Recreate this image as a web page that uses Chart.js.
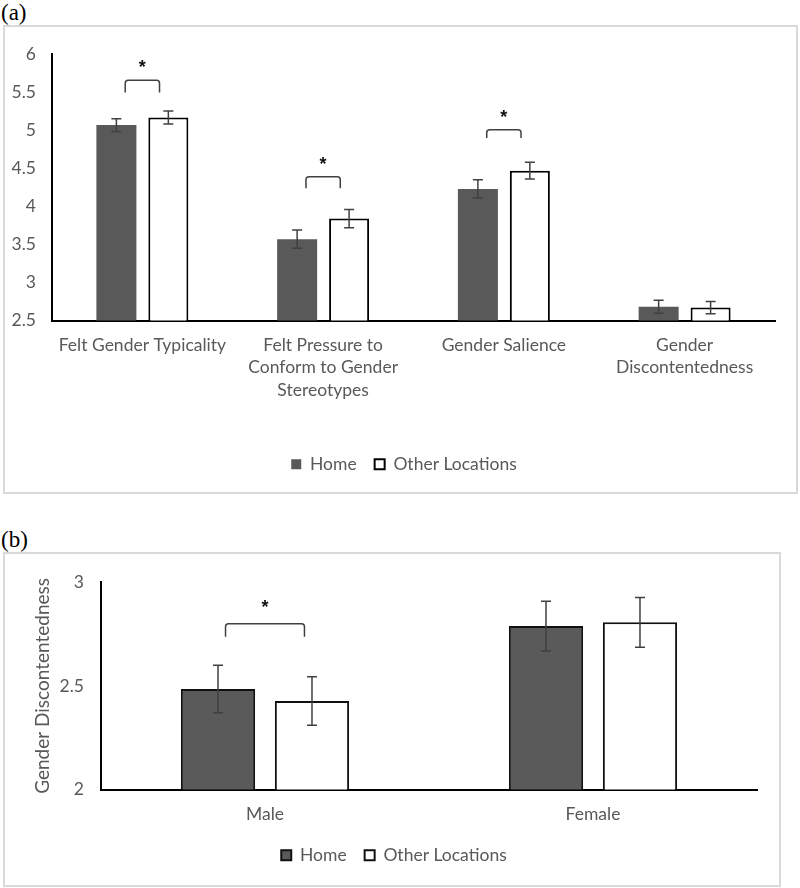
<!DOCTYPE html>
<html lang="en">
<head>
<meta charset="UTF-8">
<title>Gender measures by location</title>
<script src="https://cdn.jsdelivr.net/npm/chart.js@4.4.0/dist/chart.umd.min.js"></script>
<style>
  body { margin: 0; background: #fff; width: 800px; height: 888px; position: relative; }
  .panel-label { position: absolute; font-family: "Liberation Serif", serif; font-size: 23px; color: #000; line-height: 1; }
  .frame { position: absolute; border: 2px solid #d9d9d9; box-sizing: border-box; }
  canvas { position: absolute; }
</style>
</head>
<body>

<div class="panel-label" style="left:1px; top:1px;">(a)</div>
<div class="frame" style="left:3px; top:25px; width:795px; height:469px;"></div>
<canvas id="chartA" width="791" height="465" style="left:5px; top:27px;"></canvas>

<div class="panel-label" style="left:1px; top:528px;">(b)</div>
<div class="frame" style="left:3px; top:552px; width:778px; height:335px;"></div>
<canvas id="chartB" width="774" height="331" style="left:5px; top:554px;"></canvas>

<script>
// panel (a)
const categoriesA = [['Felt Gender Typicality'], ['Felt Pressure to', 'Conform to Gender', 'Stereotypes'], ['Gender Salience'], ['Gender', 'Discontentedness']];
const homeA = [5.07, 3.57, 4.23, 2.68];
const otherA = [5.17, 3.84, 4.47, 2.67];
const homeErrA = [0.085, 0.12, 0.12, 0.085];
const otherErrA = [0.085, 0.12, 0.11, 0.08];
const sigCatsA = [0, 1, 2];
const sigTopA = [5.66, 4.39, 5.01];
const sigLegA = [5.50, 4.24, 4.90];

// panel (b)
const categoriesB = ['Male', 'Female'];
const homeB = [2.485, 2.789];
const otherB = [2.427, 2.807];
const homeErrB = [0.115, 0.12];
const otherErrB = [0.117, 0.12];
const sigCatsB = [0];
const sigTopB = [2.80];
const sigLegB = [2.737];

const labelFont = { family: 'Lato', size: 17.5, lineHeight: 1.3 };
const textGrey = '#595959';

const errorBars = {
  id: 'errorBars',
  afterDatasetsDraw(chart, args, opts) {
    const ctx = chart.ctx;
    const y = chart.scales.y;
    chart.data.datasets.forEach((ds, i) => {
      chart.getDatasetMeta(i).data.forEach((bar, j) => {
        const top = y.getPixelForValue(ds.data[j] + ds.errors[j]);
        const bot = y.getPixelForValue(ds.data[j] - ds.errors[j]);
        ctx.save();
        ctx.strokeStyle = opts.color;
        ctx.lineWidth = opts.width;
        ctx.beginPath();
        ctx.moveTo(bar.x, top); ctx.lineTo(bar.x, bot);
        ctx.moveTo(bar.x - opts.cap, top); ctx.lineTo(bar.x + opts.cap, top);
        ctx.moveTo(bar.x - opts.cap, bot); ctx.lineTo(bar.x + opts.cap, bot);
        ctx.stroke();
        ctx.restore();
      });
    });
  }
};

const sigMarks = {
  id: 'sigMarks',
  afterDatasetsDraw(chart, args, opts) {
    const ctx = chart.ctx;
    const y = chart.scales.y;
    opts.cats.forEach((c, k) => {
      const a = chart.getDatasetMeta(0).data[c].x;
      const b = chart.getDatasetMeta(1).data[c].x;
      const mid = (a + b) / 2;
      const half = (b - a) * opts.span / 2;
      const yt = y.getPixelForValue(opts.top[k]);
      const yl = y.getPixelForValue(opts.leg[k]);
      ctx.save();
      ctx.strokeStyle = '#404040';
      ctx.lineWidth = 1.5;
      ctx.beginPath();
      ctx.moveTo(mid - half, yl);
      ctx.arcTo(mid - half, yt, mid, yt, 3);
      ctx.arcTo(mid + half, yt, mid + half, yl, 3);
      ctx.lineTo(mid + half, yl);
      ctx.stroke();
      ctx.fillStyle = '#111';
      ctx.font = 'bold 18px "Liberation Sans"';
      ctx.textAlign = 'center';
      ctx.textBaseline = 'middle';
      ctx.fillText('*', mid, yt - opts.starGap);
      ctx.restore();
    });
  }
};

// nudge the legend sideways (the original centres it on the plot, not the canvas)
const legendShift = {
  id: 'legendShift',
  afterLayout(chart, args, opts) {
    if (!chart.legend || !opts.dx) return;
    chart.legend.left += opts.dx;
    chart.legend.right += opts.dx;
  }
};

function axisX(height) {
  return {
    grid: { display: true, drawOnChartArea: false, drawTicks: false },
    border: { color: '#000', width: 2 },
    ticks: { color: textGrey, font: labelFont, padding: 13, maxRotation: 0, autoSkip: false },
    afterFit: s => { s.height = height; }
  };
}

function axisY(min, max, pad, width) {
  return {
    min: min, max: max,
    grid: { display: true, drawOnChartArea: false, drawTicks: false },
    border: { color: '#000', width: 2 },
    ticks: { stepSize: 0.5, color: textGrey, font: labelFont, padding: pad, callback: v => String(v) },
    afterFit: s => { s.width = width; }
  };
}

function legendOpts() {
  return {
    position: 'bottom',
    labels: { boxWidth: 10, boxHeight: 10, color: textGrey, font: labelFont, padding: 18 }
  };
}

new Chart(document.getElementById('chartA'), {
  type: 'bar',
  data: {
    labels: categoriesA,
    datasets: [
      { label: 'Home', data: homeA, errors: homeErrA, backgroundColor: '#595959', borderWidth: 0,
        categoryPercentage: 0.575, barPercentage: 0.77 },
      { label: 'Other Locations', data: otherA, errors: otherErrA, backgroundColor: '#fff', borderColor: '#000', borderWidth: 2,
        categoryPercentage: 0.575, barPercentage: 0.77 }
    ]
  },
  options: {
    responsive: false,
    animation: false,
    layout: { padding: { top: 25, right: 21, bottom: 9, left: 0 } },
    scales: {
      x: axisX(117),
      y: axisY(2.5, 6, 16, 47)
    },
    plugins: {
      legend: legendOpts(),
      tooltip: { enabled: false },
      errorBars: { color: '#404040', width: 1.5, cap: 5 },
      sigMarks: { cats: sigCatsA, top: sigTopA, leg: sigLegA, span: 0.66, starGap: 12 },
      legendShift: { dx: 14 }
    }
  },
  plugins: [errorBars, sigMarks, legendShift]
});

const yB = axisY(2, 3, 17, 70);
yB.title = { display: true, text: 'Gender Discontentedness', color: textGrey, font: { family: 'Lato', size: 19 }, padding: 0 };

new Chart(document.getElementById('chartB'), {
  type: 'bar',
  data: {
    labels: categoriesB,
    datasets: [
      { label: 'Home', data: homeB, errors: homeErrB, backgroundColor: '#5a5a5a', borderColor: '#111', borderWidth: 2,
        categoryPercentage: 0.573, barPercentage: 0.79 },
      { label: 'Other Locations', data: otherB, errors: otherErrB, backgroundColor: '#fff', borderColor: '#111', borderWidth: 2,
        categoryPercentage: 0.573, barPercentage: 0.79 }
    ]
  },
  options: {
    responsive: false,
    animation: false,
    layout: { padding: { top: 22, right: 22, bottom: 11, left: 26 } },
    scales: {
      x: axisX(39),
      y: yB
    },
    plugins: {
      legend: legendOpts(),
      tooltip: { enabled: false },
      errorBars: { color: '#404040', width: 1.5, cap: 5 },
      sigMarks: { cats: sigCatsB, top: sigTopB, leg: sigLegB, span: 0.84, starGap: 16 },
      legendShift: { dx: 0 }
    }
  },
  plugins: [errorBars, sigMarks, legendShift]
});
</script>
</body>
</html>
